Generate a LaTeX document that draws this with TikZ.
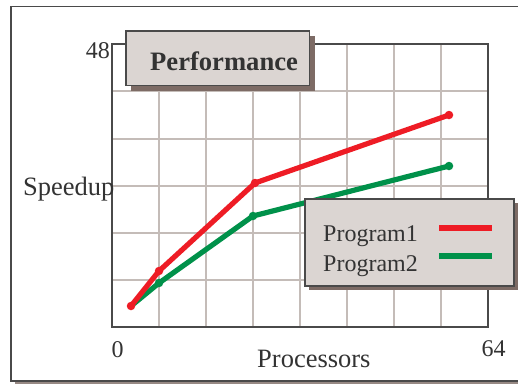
\documentclass[tikz,border=0pt]{standalone}
\usepackage{fontspec}
\setmainfont{Liberation Serif}
\definecolor{gridc}{HTML}{C4BCB8}
\definecolor{framec}{HTML}{4A4A4A}
\definecolor{boxfill}{HTML}{DBD5D2}
\definecolor{shadowc}{HTML}{7D6B65}
\definecolor{redc}{HTML}{EE1C25}
\definecolor{greenc}{HTML}{00914A}
\definecolor{textc}{HTML}{333333}
\begin{document}
\begin{tikzpicture}[x=1pt,y=-1pt,
  gridline/.style={draw=gridc,line width=1.4pt},
  axisline/.style={draw=framec,line width=1.5pt},
  panel/.style={draw=framec,fill=boxfill,line width=1.3pt},
  shade/.style={fill=shadowc},
  curve/.style={line width=5.2pt,line join=round,line cap=round},
  dot/.style={circle,inner sep=0pt,minimum size=8.5pt},
  lbl/.style={inner sep=0pt,text=textc,font=\fontsize{24}{28}\selectfont},
  biglbl/.style={inner sep=0pt,text=textc,font=\fontsize{26.5}{30}\selectfont}]
\useasboundingbox (0,0) rectangle (518,384);
\fill[white] (0,0) rectangle (518,384);
% outer frame with a thin shadow
\fill[shadowc!80] (15,381) rectangle (520,383.5);
\draw[framec,line width=1.6pt] (11,6.5) rectangle (522,381);
% grid
\foreach \gx in {159,206,253,300,347,394,441}
  \draw[gridline] (\gx,44) -- (\gx,327);
\foreach \gy in {91,139,186,233,280}
  \draw[gridline] (112,\gy) -- (488,\gy);
% plot frame
\draw[axisline] (112,44) rectangle (488,327);
% data points
\coordinate (o) at (131,306);
\coordinate (r1) at (159,271);
\coordinate (r2) at (255,183);
\coordinate (r3) at (449,115);
\coordinate (g1) at (159,283);
\coordinate (g2) at (253,216);
\coordinate (g3) at (449,166);
\draw[curve,greenc] (o) -- (g1) -- (g2) -- (g3);
\foreach \p in {g1,g2,g3} \node[dot,fill=greenc] at (\p) {};
\draw[curve,redc] (o) -- (r1) -- (r2) -- (r3);
\foreach \p in {o,r1,r2,r3} \node[dot,fill=redc] at (\p) {};
% title panel
\fill[shade] (131,36) rectangle (314.5,90.5);
\draw[panel] (126,31) rectangle (309.5,85.7);
\node[inner sep=0pt,text=textc,anchor=base west,font=\bfseries\fontsize{26.6}{30}\selectfont] (title) at (150,70.5) {Performance};
% legend panel
\fill[shade] (309,203) rectangle (517.5,290);
\draw[panel] (305,199) rectangle (514,286);
\node[lbl,anchor=base west] (p1) at (323,241.5) {Program1};
\node[lbl,anchor=base west] (p2) at (323,271) {Program2};
\coordinate (k1a) at (439,228);
\coordinate (k1b) at (492,228);
\coordinate (k2a) at (439,256);
\coordinate (k2b) at (492,256);
\draw[redc,line width=5.5pt] (k1a) -- (k1b);
\draw[greenc,line width=5.5pt] (k2a) -- (k2b);
% axis labels
\node[lbl,anchor=base east] (ymax) at (110,58) {48};
\node[biglbl,anchor=base west] (ylab) at (23,195) {Speedup};
\node[lbl,anchor=base] (xmin) at (117.5,357) {0};
\node[lbl,anchor=base] (xmax) at (493.5,356) {64};
\node[biglbl,anchor=base west] (xlab) at (257,367) {Processors};
\end{tikzpicture}
\end{document}
